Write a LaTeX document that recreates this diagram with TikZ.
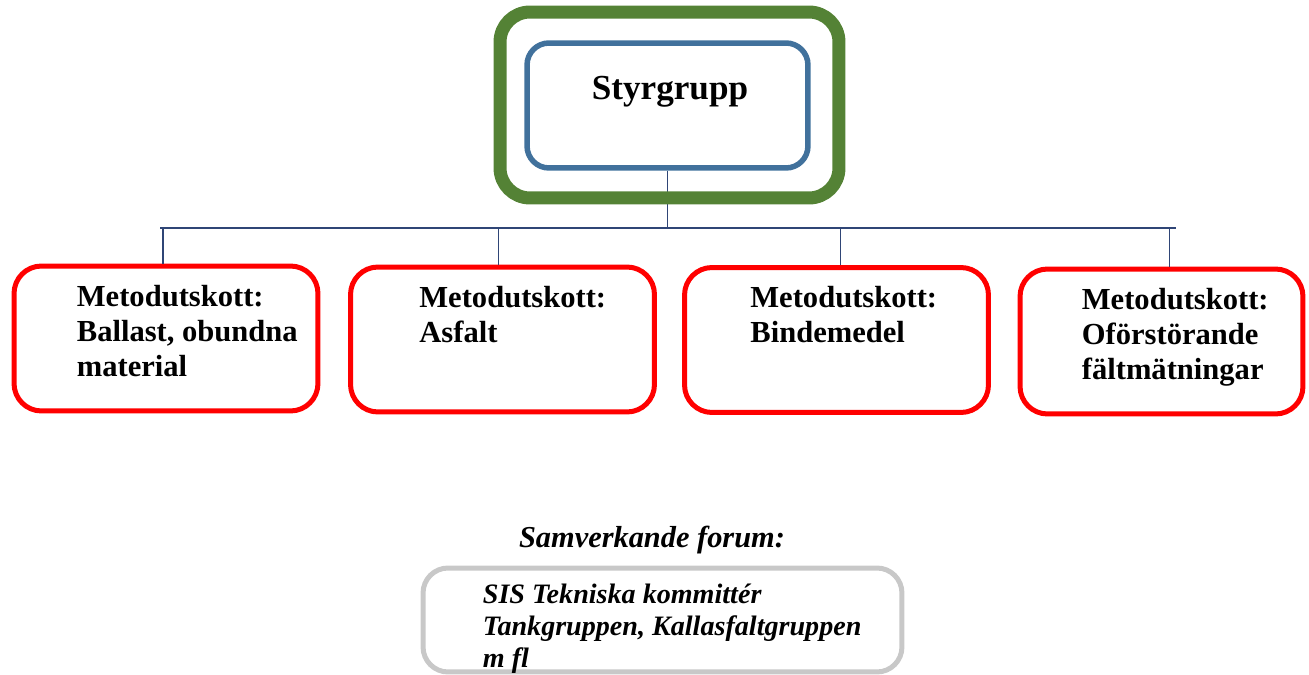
\documentclass[tikz,border=0pt]{standalone}
\usepackage{fontspec}
\setmainfont{Liberation Serif}
\usetikzlibrary{positioning}
\definecolor{styrgreen}{RGB}{84,130,53}
\definecolor{styrblue}{RGB}{65,113,156}
\definecolor{busblue}{RGB}{47,69,118}
\definecolor{forumgray}{RGB}{200,200,200}

\begin{document}
\begin{tikzpicture}[x=0.02cm, y=-0.02cm,
    outerbox/.style={draw=styrgreen, line width=0.26cm, rounded corners=0.6cm, minimum width=6.78cm, minimum height=3.72cm},
    styrbox/.style={draw=styrblue, line width=0.11cm, rounded corners=0.44cm, minimum width=5.62cm, minimum height=2.5cm},
    groupbox/.style={draw=red, line width=0.1cm, rounded corners=0.55cm, minimum width=6.08cm, minimum height=2.9cm},
    grouptext/.style={inner sep=0pt, align=left, font=\fontsize{17.4}{20}\selectfont\bfseries},
    forumbox/.style={draw=forumgray, line width=0.1cm, rounded corners=0.5cm, minimum width=9.58cm, minimum height=2.08cm},
    forumtext/.style={inner sep=0pt, align=left, font=\fontsize{16}{18}\selectfont\bfseries\itshape},
    bus/.style={draw=busblue, line width=0.8pt}]
    \useasboundingbox (0,0) rectangle (1309,675);

    % Styrgrupp
    \node[styrbox] (styr) at (667.5,105.5) {};
    \node[anchor=base, font=\fontsize{20}{24}\selectfont\bfseries] (styrtxt) at (670,100) {Styrgrupp};

    % Metodutskott
    \node[groupbox] (m1) at (166,338.5) {};
    \node[groupbox] (m2) at (502.5,339.5) {};
    \node[groupbox] (m3) at (836.5,340) {};
    \node[groupbox, minimum width=5.66cm] (m4) at (1161.5,341.5) {};
    \node[grouptext, below right=0.42cm and 1.3cm of m1.north west] (m1txt) {Metodutskott:\\Ballast, obundna\\material};
    \node[grouptext, below right=0.42cm and 1.42cm of m2.north west] (m2txt) {Metodutskott:\\Asfalt};
    \node[grouptext, below right=0.42cm and 1.36cm of m3.north west] (m3txt) {Metodutskott:\\Bindemedel};
    \node[grouptext, below right=0.42cm and 1.28cm of m4.north west] (m4txt) {Metodutskott:\\Oförstörande\\fältmätningar};

    % Lines
    \coordinate (busL) at (160,228);
    \coordinate (busR) at (1176,228);
    \draw[bus] (busL) -- (busR);
    \draw[bus] (styr.south) -- (styr.south |- busL);
    \foreach \m/\dx in {m1/-0.06cm, m2/-0.08cm, m3/0.08cm, m4/0.16cm}
        \draw[bus] ([xshift=\dx]\m.north) -- ([xshift=\dx]\m.north |- busL);

    % Green frame on top
    \node[outerbox] (styrframe) at (669.5,105) {};

    % Samverkande forum
    \node[anchor=base, font=\fontsize{17.3}{20}\selectfont\bfseries\itshape] (forumtitle) at (652,547) {Samverkande forum:};
    \node[forumbox] (forum) at (662.5,620) {};
    \node[forumtext, below right=0.37cm and 1.24cm of forum.north west] (forumtxt) {SIS Tekniska kommittér\\Tankgruppen, Kallasfaltgruppen\\m fl};
\end{tikzpicture}
\end{document}
